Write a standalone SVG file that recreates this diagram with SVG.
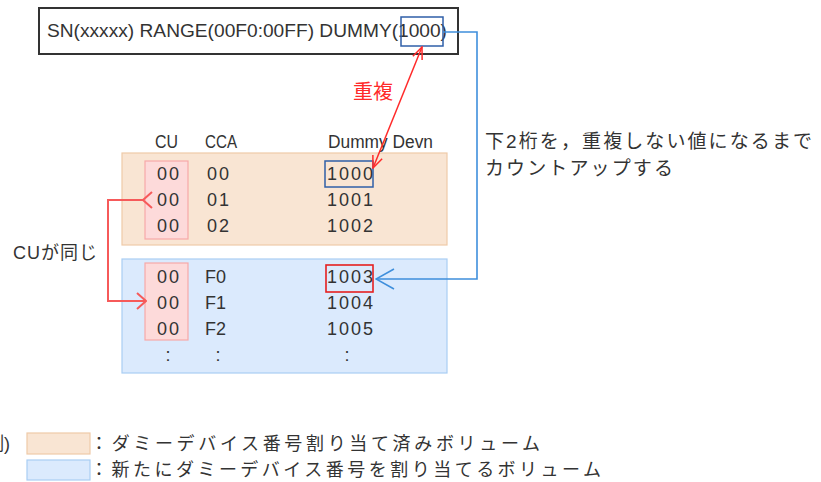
<svg xmlns="http://www.w3.org/2000/svg" width="821" height="482" viewBox="0 0 821 482">
<defs>
<style>
text{font-family:'Liberation Sans','Noto Sans CJK JP',sans-serif;fill:#333;}
.t{font-size:18px;}
.num{font-size:18px;letter-spacing:2px;}
.jp{font-size:18px;}
.pink{fill:#fddada;stroke:#f7a9a9;stroke-width:1.2;}
</style>
<marker id="redHead" viewBox="0 0 14 12" refX="13" refY="6" markerWidth="14" markerHeight="12" markerUnits="userSpaceOnUse" orient="auto-start-reverse">
<path d="M1,1 L13,6 L1,11" fill="none" stroke="#ff2a2a" stroke-width="1.5"/>
</marker>
<marker id="cuHead" viewBox="0 0 11 18" refX="10" refY="9" markerWidth="11" markerHeight="18" markerUnits="userSpaceOnUse" orient="auto">
<path d="M1,1 L10,9 L1,17" fill="none" stroke="#f65a5a" stroke-width="2"/>
</marker>
<marker id="blueHead" viewBox="0 0 20 22" refX="19" refY="11" markerWidth="20" markerHeight="22" markerUnits="userSpaceOnUse" orient="auto">
<path d="M1,1 L19,11 L1,21" fill="none" stroke="#3f8fdc" stroke-width="1.6"/>
</marker>
</defs>
<rect width="821" height="482" fill="#fff"/>

<g id="command">
<rect x="39" y="8" width="419" height="46" fill="#fff" stroke="#333" stroke-width="2"/>
<text x="47" y="37" font-size="19" textLength="400" lengthAdjust="spacingAndGlyphs">SN(xxxxx) RANGE(00F0:00FF) DUMMY(1000)</text>
<rect x="401" y="17" width="42" height="29" fill="none" stroke="#2f5fa8" stroke-width="1.5"/>
</g>

<g id="table-header">
<text class="t" x="155" y="148" textLength="23" lengthAdjust="spacingAndGlyphs">CU</text>
<text class="t" x="205" y="148" textLength="32" lengthAdjust="spacingAndGlyphs">CCA</text>
<text class="t" x="328" y="148" textLength="105" lengthAdjust="spacingAndGlyphs">Dummy  Devn</text>
</g>

<g id="vol-assigned">
<rect x="122" y="153" width="325" height="92" fill="#f9e5d3" stroke="#efcaa8" stroke-width="1.2"/>
<rect class="pink" x="145" y="161" width="43" height="78"/>
<text class="num" x="157" y="180">00</text><text class="num" x="207" y="180">00</text><text class="num" x="327" y="180">1000</text>
<text class="num" x="157" y="206">00</text><text class="num" x="207" y="206">01</text><text class="num" x="327" y="206">1001</text>
<text class="num" x="157" y="232">00</text><text class="num" x="207" y="232">02</text><text class="num" x="327" y="232">1002</text>
<rect x="325" y="161" width="48" height="26" fill="none" stroke="#2f5fa8" stroke-width="1.5"/>
</g>

<g id="vol-new">
<rect x="122" y="259" width="325" height="114" fill="#dbeafd" stroke="#a9cdf4" stroke-width="1.2"/>
<rect class="pink" x="145" y="263" width="43" height="77"/>
<text class="num" x="157" y="283">00</text><text class="t" x="205" y="283">F0</text><text class="num" x="327" y="283">1003</text>
<text class="num" x="157" y="309">00</text><text class="t" x="205" y="309">F1</text><text class="num" x="327" y="309">1004</text>
<text class="num" x="157" y="335">00</text><text class="t" x="205" y="335">F2</text><text class="num" x="327" y="335">1005</text>
<text class="t" x="168" y="361" text-anchor="middle">:</text>
<text class="t" x="218" y="361" text-anchor="middle">:</text>
<text class="t" x="347" y="361" text-anchor="middle">:</text>
<rect x="326" y="265" width="47" height="27" fill="none" stroke="#e52020" stroke-width="1.6"/>
</g>

<g id="connectors" fill="none">
<path d="M422,47 L373,168" stroke="#ff2a2a" stroke-width="1.5" marker-start="url(#redHead)" marker-end="url(#redHead)"/>
<path d="M443,32 H477 V279 H376" stroke="#3f8fdc" stroke-width="1.6" marker-end="url(#blueHead)"/>
<path d="M143,200 H108 V301 H146" stroke="#f65a5a" stroke-width="2" marker-start="url(#cuHead)" marker-end="url(#cuHead)"/>
</g>

<g id="labels">
<text x="353" y="99" font-size="20" style="fill:#ff2a2a" textLength="40">重複</text>
<text class="jp" x="485" y="148" font-size="19" style="font-size:19px" textLength="327">下2桁を，重複しない値になるまで</text>
<text class="jp" x="485" y="175" style="font-size:19px" textLength="188">カウントアップする</text>
<text class="jp" x="13" y="259" textLength="84">CUが同じ</text>
</g>

<g id="legend">
<text class="jp" x="10" y="450" text-anchor="end">(凡例)</text>
<rect x="27" y="433" width="63" height="21" fill="#f9e5d3" stroke="#efcaa8" stroke-width="1.2"/>
<rect x="27" y="460" width="63" height="20" fill="#dbeafd" stroke="#a9cdf4" stroke-width="1.2"/>
<text class="jp" x="90" y="450" textLength="450">：ダミーデバイス番号割り当て済みボリューム</text>
<text class="jp" x="90" y="476" textLength="511">：新たにダミーデバイス番号を割り当てるボリューム</text>
</g>
</svg>
